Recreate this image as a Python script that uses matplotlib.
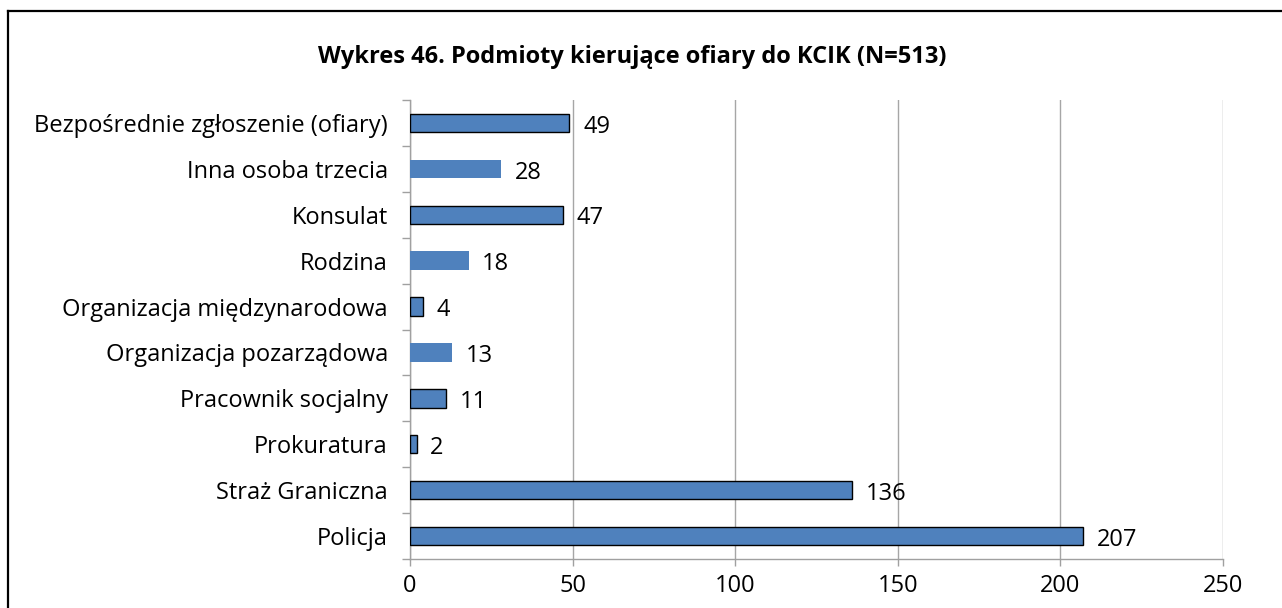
import matplotlib
matplotlib.use("Agg")
import matplotlib.pyplot as plt
from matplotlib.lines import Line2D
import numpy as np

categories = [
    "Bezpośrednie zgłoszenie (ofiary)",
    "Inna osoba trzecia",
    "Konsulat",
    "Rodzina",
    "Organizacja międzynarodowa",
    "Organizacja pozarządowa",
    "Pracownik socjalny",
    "Prokuratura",
    "Straż Graniczna",
    "Policja",
]
values = [49, 28, 47, 18, 4, 13, 11, 2, 136, 207]
outlined = [True, False, True, False, True, False, True, True, True, True]
x_ticks = [0, 50, 100, 150, 200, 250]
title = "Wykres 46. Podmioty kierujące ofiary do KCIK (N=513)"

plt.rcParams["font.family"] = ["Open Sans", "DejaVu Sans"]

W, H = 1282, 608
fig = plt.figure(figsize=(W / 100, H / 100), dpi=100)
fig.patch.set_facecolor("white")

# outer frame (open at the right and bottom edges)
fig.add_artist(Line2D([8 / W, 1.0], [1 - 11 / H, 1 - 11 / H], color="black", lw=1.6,
                      transform=fig.transFigure))
fig.add_artist(Line2D([8 / W, 8 / W], [0.0, 1 - 11 / H], color="black", lw=1.6,
                      transform=fig.transFigure))

ax = fig.add_axes([410 / W, 1 - 559 / H, (1223 - 410) / W, (559 - 100) / H])

n = len(categories)
ypos = np.arange(n)[::-1]
for y, v, o in zip(ypos, values, outlined):
    ax.barh(y, v, height=0.4, color="#4F81BD",
            edgecolor="black" if o else "#4F81BD", linewidth=1.0 if o else 0, zorder=3)
    ax.text(v + 4.2, y - 0.08, str(v), va="center", ha="left", fontsize=17, color="black")

ax.set_xlim(0, 250)
ax.set_ylim(-0.5, n - 0.5)
ax.set_xticks(x_ticks)
ax.set_xticklabels([str(t) for t in x_ticks], fontsize=17)
ax.set_yticks(ypos)
ax.set_yticklabels(categories, fontsize=17)
ax.set_yticks(np.arange(n + 1) - 0.5, minor=True)

ax.tick_params(axis="y", which="major", length=0, pad=16)
ax.tick_params(axis="y", which="minor", length=6, color="#A0A0A0", width=1)
ax.tick_params(axis="x", which="major", length=5, color="#A0A0A0", width=1, pad=6)

ax.grid(axis="x", color="#A6A6A6", lw=1, zorder=0)
for s in ["top", "right"]:
    ax.spines[s].set_visible(False)
for s in ["left", "bottom"]:
    ax.spines[s].set_color("#A0A0A0")
    ax.spines[s].set_linewidth(1)

fig.text(632 / W, 1 - 57 / H, title, ha="center", va="center", fontsize=17,
         fontweight="bold", color="black")

fig.savefig("out.png", dpi=100, facecolor="white")
